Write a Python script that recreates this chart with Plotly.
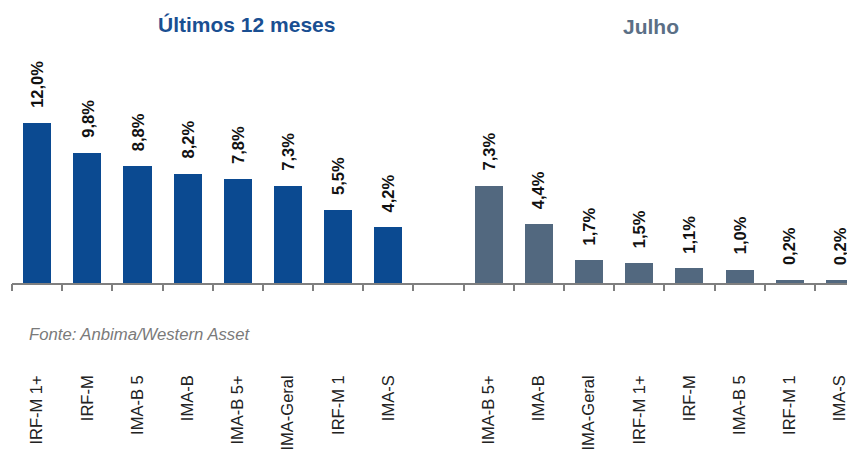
import plotly.graph_objects as go

# ---- data ----
cats_12m = ["IRF-M 1+", "IRF-M", "IMA-B 5", "IMA-B", "IMA-B 5+", "IMA-Geral", "IRF-M 1", "IMA-S"]
vals_12m = [12.0, 9.8, 8.8, 8.2, 7.8, 7.3, 5.5, 4.2]
cats_jul = ["IMA-B 5+", "IMA-B", "IMA-Geral", "IRF-M 1+", "IRF-M", "IMA-B 5", "IRF-M 1", "IMA-S"]
vals_jul = [7.3, 4.4, 1.7, 1.5, 1.1, 1.0, 0.2, 0.2]
title_12m = "Últimos 12 meses"
title_jul = "Julho"
source = "Fonte: Anbima/Western Asset"

BLUE = "#0b4a91"
GRAY = "#52687f"
SANS = "Liberation Sans, Arial, sans-serif"

x_12m = list(range(len(cats_12m)))
x_jul = [len(cats_12m) + 1 + i for i in range(len(cats_jul))]
n_slots = len(cats_12m) + 1 + len(cats_jul)

def fmt(v):
    return f"{v:.1f}".replace(".", ",") + "%"

fig = go.Figure()
fig.add_trace(go.Bar(x=x_12m, y=vals_12m, marker=dict(color=BLUE, line=dict(width=0)),
                     width=0.56, hoverinfo="skip", showlegend=False))
fig.add_trace(go.Bar(x=x_jul, y=vals_jul, marker=dict(color=GRAY, line=dict(width=0)),
                     width=0.56, hoverinfo="skip", showlegend=False))

annotations = []
for xs, vs in ((x_12m, vals_12m), (x_jul, vals_jul)):
    for x, v in zip(xs, vs):
        annotations.append(dict(x=x, y=v, xref="x", yref="y", text=f"<b>{fmt(v)}</b>", showarrow=False,
                                textangle=-90, xanchor="center", yanchor="bottom", yshift=13,
                                font=dict(family=SANS, size=16.5, color="#111111")))

annotations += [
    dict(x=0.278, y=1.11, xref="paper", yref="paper", text=f"<b>{title_12m}</b>", showarrow=False,
         xanchor="center", yanchor="middle", font=dict(family=SANS, size=21, color="#1a4f92")),
    dict(x=0.758, y=1.10, xref="paper", yref="paper", text=f"<b>{title_jul}</b>", showarrow=False,
         xanchor="center", yanchor="middle", font=dict(family=SANS, size=21, color="#5b6f86")),
    dict(x=0.0178, y=-0.223, xref="paper", yref="paper", text=f"<i>{source}</i>", showarrow=False,
         xanchor="left", yanchor="middle", font=dict(family=SANS, size=16.7, color="#7a7a7a")),
]

tick_vals = x_12m + x_jul
tick_text = cats_12m + cats_jul
boundaries = [i - 0.5 for i in range(n_slots + 1)]

fig.update_layout(
    width=847, height=457,
    margin=dict(l=4, r=0, t=42, b=182),
    paper_bgcolor="white", plot_bgcolor="white",
    bargap=0,
    xaxis=dict(range=[-0.5, 16.3], tickmode="array", tickvals=tick_vals, ticktext=tick_text,
               tickangle=-90, ticks="", showgrid=False, zeroline=False,
               showline=True, linecolor="#7f7f7f", linewidth=1.5,
               tickfont=dict(family=SANS, size=16.5, color="#222222"),
               ticklabelstandoff=84),
    xaxis2=dict(range=[-0.5, 16.3], overlaying="x", side="bottom", anchor="y",
                tickmode="array", tickvals=boundaries, ticks="outside", ticklen=7,
                tickwidth=1.5, tickcolor="#7f7f7f", showticklabels=False,
                showgrid=False, zeroline=False, showline=False),
    yaxis=dict(range=[0, 17.5], visible=False),
    annotations=annotations,
)
# invisible trace to activate xaxis2
fig.add_trace(go.Scatter(x=[-0.5], y=[0], xaxis="x2", mode="markers", marker=dict(opacity=0),
                         hoverinfo="skip", showlegend=False))

fig.write_html("out.html")
